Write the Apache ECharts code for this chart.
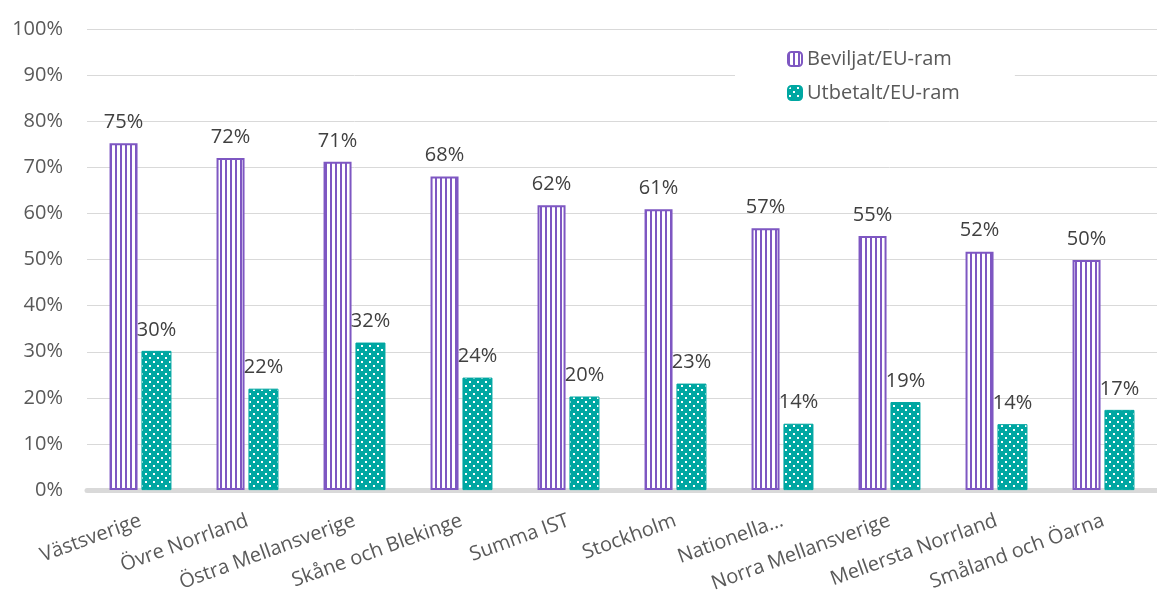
<!DOCTYPE html>
<html lang="sv">
<head>
    <meta charset="UTF-8">
    <title>Beviljat och utbetalt per område</title>
    <script src="https://cdn.jsdelivr.net/npm/echarts@6/dist/echarts.min.js"></script>
    <style>
        body { margin: 0; background: #fff; }
        #chart { width: 1157px; height: 595px; }
    </style>
</head>
<body>
<div id="chart"></div>
<script>
    var categories = ['Västsverige', 'Övre Norrland', 'Östra Mellansverige', 'Skåne och Blekinge', 'Summa IST',
        'Stockholm', 'Nationella…', 'Norra Mellansverige', 'Mellersta Norrland', 'Småland och Öarna'];
    var beviljat = [75.2, 72.0, 71.2, 68.0, 61.8, 60.9, 56.8, 55.1, 51.7, 49.9];
    var utbetalt = [30.2, 22.0, 32.0, 24.4, 20.3, 23.1, 14.4, 19.1, 14.3, 17.4];
    var yTicks = [0, 10, 20, 30, 40, 50, 60, 70, 80, 90, 100];

    var purple = '#7E57C2';
    var teal = '#00A7A2';
    var font = 'Open Sans';
    var fs = 20;

    // vertical stripes
    function stripes() {
        var c = document.createElement('canvas');
        c.width = 5; c.height = 4;
        var g = c.getContext('2d');
        g.fillStyle = '#fff';
        g.fillRect(0, 0, 5, 4);
        g.fillStyle = purple;
        g.fillRect(0, 0, 2, 4);
        return c;
    }

    // small white dots
    function dots() {
        var c = document.createElement('canvas');
        c.width = 8; c.height = 8;
        var g = c.getContext('2d');
        g.fillStyle = teal;
        g.fillRect(0, 0, 8, 8);
        g.fillStyle = '#fff';
        g.fillRect(1, 1, 2, 2);
        g.fillRect(5, 5, 2, 2);
        return c;
    }

    var chart = echarts.init(document.getElementById('chart'));
    var option = {
        animation: false,
        textStyle: { fontFamily: font },
        grid: { left: 87, right: 0, top: 29, bottom: 103, containLabel: false },
        legend: {
            orient: 'vertical',
            left: 735,
            top: 40,
            padding: [9, 55, 8, 52],
            backgroundColor: '#fff',
            itemWidth: 14,
            itemHeight: 14,
            itemGap: 14,
            textStyle: { fontSize: fs, color: '#595959', fontFamily: font },
            data: ['Beviljat/EU-ram', 'Utbetalt/EU-ram']
        },
        xAxis: {
            type: 'category',
            data: categories,
            axisLine: { lineStyle: { color: '#D9D9D9', width: 5 } },
            axisTick: { show: false },
            axisLabel: {
                interval: 0,
                rotate: 20,
                margin: 30,
                fontSize: fs,
                color: '#595959',
                fontFamily: font
            }
        },
        yAxis: {
            type: 'value',
            min: yTicks[0],
            max: yTicks[yTicks.length - 1],
            interval: 10,
            axisLine: { show: false },
            axisTick: { show: false },
            splitLine: { lineStyle: { color: '#D9D9D9', width: 1 } },
            axisLabel: {
                fontSize: fs,
                color: '#595959',
                margin: 24,
                fontFamily: font,
                formatter: function (v) { return v + '%'; }
            }
        },
        series: [
            {
                name: 'Beviljat/EU-ram',
                type: 'bar',
                data: beviljat,
                barWidth: 28,
                barGap: '14%',
                itemStyle: {
                    color: { image: stripes(), repeat: 'repeat' },
                    borderColor: purple,
                    borderWidth: 2
                },
                label: {
                    show: true,
                    position: 'top',
                    distance: 11,
                    fontSize: fs,
                    color: '#404040',
                    fontFamily: font,
                    formatter: function (p) { return Math.round(p.value) + '%'; }
                }
            },
            {
                name: 'Utbetalt/EU-ram',
                type: 'bar',
                data: utbetalt,
                barWidth: 30,
                itemStyle: {
                    color: { image: dots(), repeat: 'repeat' },
                    borderColor: teal,
                    borderWidth: 1
                },
                label: {
                    show: true,
                    position: 'top',
                    distance: 11,
                    fontSize: fs,
                    color: '#404040',
                    fontFamily: font,
                    formatter: function (p) { return Math.round(p.value) + '%'; }
                }
            }
        ]
    };
    chart.setOption(option);
</script>
</body>
</html>
